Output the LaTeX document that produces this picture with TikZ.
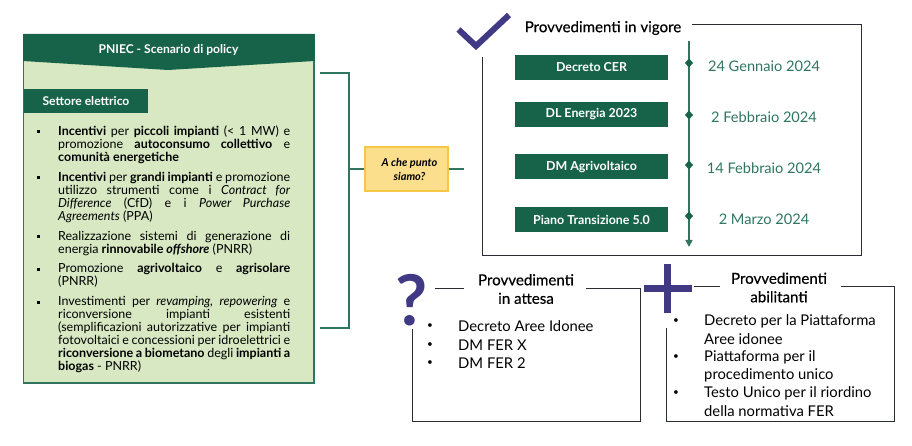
\documentclass[tikz,border=0pt]{standalone}
\usepackage{fontspec}
\setmainfont{Lato}
\newfontfamily\headfont[FakeBold=0.35]{Lato}
\usetikzlibrary{arrows.meta}
\definecolor{darkgreen}{HTML}{17634A}
\definecolor{linegreen}{HTML}{2F7560}
\definecolor{palegreen}{HTML}{D7E8C2}
\definecolor{paleyellow}{HTML}{FBDF8C}
\definecolor{edgeyellow}{HTML}{F6C744}
\definecolor{violet}{HTML}{403A84}
\definecolor{framecol}{HTML}{2B2D36}
\begin{document}
\begin{tikzpicture}[x=1pt, y=-1pt,
		act/.style={fill=darkgreen, text=white, minimum width=153pt, minimum height=25pt, inner sep=0pt, font=\fontsize{12.4}{13}\selectfont\bfseries},
		date/.style={text=linegreen, font=\fontsize{14.6}{16}\selectfont, inner sep=0pt},
		head/.style={align=center, font=\fontsize{15.1}{18.5}\selectfont\headfont, inner sep=0pt},
		item/.style={anchor=north west, text width=232pt, align=justify, inner sep=0pt, font=\fontsize{12.5}{13}\selectfont},
		sq/.style={fill=black, minimum size=3pt, inner sep=0pt},
		blist/.style={anchor=west, inner sep=0pt, font=\fontsize{14.8}{18}\selectfont},
		bdot/.style={inner sep=0pt, font=\fontsize{10}{10}\selectfont},
		frm/.style={draw=framecol, line width=1pt},
		link/.style={draw=linegreen, line width=1.5pt}]
		\useasboundingbox (0,0) rectangle (912,446);
		% left panel
		\fill[palegreen, draw=linegreen, line width=1.5pt] (23.5,34.5) rectangle (314,383);
		\fill[darkgreen] (23,34) -- (314.5,34) -- (314.5,61) -- (168,70) -- (23,61) -- cycle;
		\node[text=white, inner sep=0pt, font=\fontsize{12.1}{14}\selectfont\bfseries] (title) at (168.5,50) {PNIEC - Scenario di policy};
		\node[fill=darkgreen, text=white, minimum width=124pt, minimum height=24pt, inner sep=0pt, font=\fontsize{12.1}{14}\selectfont\bfseries] (sector) at (86,101) {Settore elettrico};
		\node[item] (itemA) at (58,126) {\textbf{Incentivi} per \textbf{piccoli impianti} (< 1 MW) e\linebreak promozione \textbf{autoconsumo collettivo} e\linebreak \textbf{comunità energetiche}};
		\node[item] (itemB) at (58,172) {\textbf{Incentivi} per \textbf{grandi impianti} e promozione\linebreak utilizzo strumenti come i \textit{Contract for}\linebreak \textit{Difference} (CfD) e i \textit{Power Purchase}\linebreak \textit{Agreements} (PPA)};
		\node[item] (itemC) at (58,231) {Realizzazione sistemi di generazione di\linebreak energia \textbf{rinnovabile \textit{offshore}} (PNRR)};
		\node[item] (itemD) at (58,263) {Promozione \textbf{agrivoltaico} e \textbf{agrisolare}\linebreak (PNRR)};
		\node[item] (itemE) at (58,296) {Investimenti per \textit{revamping, repowering} e\linebreak riconversione impianti esistenti\linebreak (semplificazioni autorizzative per impianti\linebreak fotovoltaici e concessioni per idroelettrici e\linebreak \textbf{riconversione a biometano} degli \textbf{impianti a}\linebreak \textbf{biogas} - PNRR)};
		\foreach \y/\n in {132/A,178/B,237/C,269/D,302/E}
			\node[sq] (sq\n) at (38,\y) {};
		% bracket and question
		\node[fill=paleyellow, draw=edgeyellow, line width=1.2pt, minimum width=83pt, minimum height=44pt, inner sep=0pt, align=center, font=\fontsize{11}{14}\selectfont\bfseries\itshape] (ask) at (406.5,169) {\hspace{6pt}A che punto\\\hspace{6pt}siamo?};
		\coordinate (brA) at (320,73);
		\coordinate (brB) at (349,73);
		\coordinate (brC) at (349,328);
		\coordinate (brD) at (320,328);
		\coordinate (brE) at (349,169);
		\coordinate (brF) at (464,169);
		\draw[link] (brA) -- (brB) -- (brC) -- (brD);
		\draw[link] (brE) -- (ask);
		\draw[link] (ask) -- (brF);
		% in force
		\draw[violet, line width=6pt] (458.5,29.5) -- (476,46) -- (509,15);
		\node[head] (force) at (603,28) {Provvedimenti in vigore};
		\coordinate (fA) at (692,24.5);
		\coordinate (fB) at (861,24.5);
		\coordinate (fC) at (861,255.5);
		\coordinate (fD) at (482.5,255.5);
		\coordinate (fE) at (482.5,57);
		\draw[frm] (fA) -- (fB) -- (fC) -- (fD) -- (fE);
		\node[act] (actA) at (591.5,67.5) {Decreto CER};
		\node[act] (actB) at (591.5,114.5) {DL Energia 2023};
		\node[act] (actC) at (591.5,167) {DM Agrivoltaico};
		\node[act] (actD) at (591.5,219.5) {Piano Transizione 5.0};
		\coordinate (tlA) at (689,41);
		\coordinate (tlB) at (689,247);
		\draw[link, -{Triangle[length=7pt, width=7pt]}] (tlA) -- (tlB);
		\foreach \y/\n in {63/A,115/B,165/C,216/D}
			\fill[darkgreen] (685,\y) -- (689,\y-4.5) -- (693,\y) -- (689,\y+4.5) -- cycle;
		\node[date] (dateA) at (764,66) {24 Gennaio 2024};
		\node[date] (dateB) at (764,117) {2 Febbraio 2024};
		\node[date] (dateC) at (764,168) {14 Febbraio 2024};
		\node[date] (dateD) at (764,219) {2 Marzo 2024};
		% waiting
		\node[text=violet, inner sep=0pt, font=\fontsize{70}{70}\selectfont\bfseries] (quest) at (412,300.5) {?};
		\node[head] (wait) at (526,289) {Provvedimenti\\in attesa};
		\coordinate (wA) at (435,288);
		\coordinate (wB) at (464,288);
		\coordinate (wC) at (586,288);
		\coordinate (wD) at (640,288);
		\coordinate (wE) at (640,421.5);
		\coordinate (wF) at (412,421.5);
		\coordinate (wG) at (412,329);
		\draw[frm] (wA) -- (wB);
		\draw[frm] (wC) -- (wD) -- (wE) -- (wF) -- (wG);
		\foreach \y/\t in {326.5/Decreto Aree Idonee,345/DM FER X,363/DM FER 2}{
			\node[bdot] at (430,\y) {•};
			\node[blist] at (458,\y) {\t};
		}
		% enabling
		\fill[violet] (643.5,285) rectangle (691.5,292);
		\fill[violet] (664,264) rectangle (671,313);
		\node[head] (enable) at (779,287.5) {Provvedimenti\\abilitanti};
		\coordinate (eA) at (694,286);
		\coordinate (eB) at (720,286);
		\coordinate (eC) at (841,286);
		\coordinate (eD) at (894,286);
		\coordinate (eE) at (894,421.5);
		\coordinate (eF) at (666.5,421.5);
		\coordinate (eG) at (666.5,328);
		\draw[frm] (eA) -- (eB);
		\draw[frm] (eC) -- (eD) -- (eE) -- (eF) -- (eG);
		\foreach \y in {321.5,357.3,393.4}
			\node[bdot] at (676,\y) {•};
		\foreach \y/\t in {321.5/Decreto per la Piattaforma,339.4/Aree idonee,357.3/Piattaforma per il,375.2/procedimento unico,393.4/Testo Unico per il riordino,411/della normativa FER}
			\node[blist] at (704,\y) {\t};
		\end{tikzpicture}
\end{document}
